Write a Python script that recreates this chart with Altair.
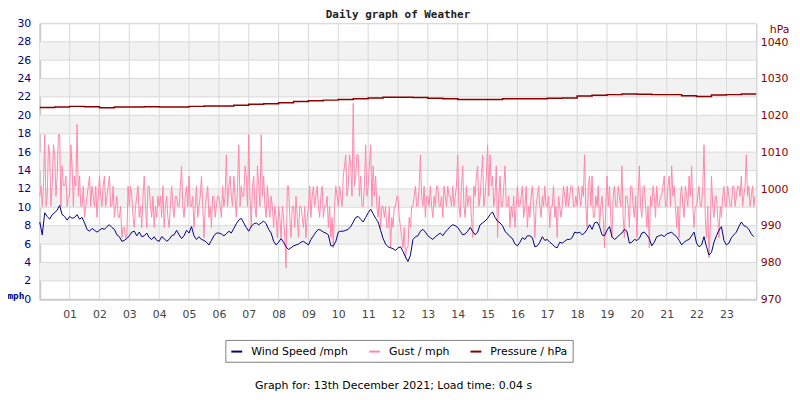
import altair as alt
import pandas as pd

# ---------------- data ----------------
hour_ticks = list(range(1, 24))
mph_ticks = list(range(2, 31, 2))
hpa_ticks = list(range(970, 1041, 10))
band_lo = [2, 6, 10, 14, 18, 22, 26]
band_hi = [4, 8, 12, 16, 20, 24, 28]

series_names = ["Wind Speed /mph", "Gust / mph", "Pressure / hPa"]
series_colors = ["#000080", "#ff88aa", "#8b0000"]

# wind speed, 5-minute samples from 00:00 (mph)
wind = [
    8.4, 7.0, 9.4, 9.0, 8.7, 9.2, 9.4, 9.7, 10.2, 9.2, 9.0, 8.6,
    9.0, 8.8, 8.9, 9.2, 8.7, 8.9, 8.3, 7.6, 7.4, 7.7, 7.5, 7.3,
    7.5, 7.7, 7.6, 7.9, 8.1, 7.8, 7.6, 7.0, 6.8, 6.3, 6.4, 6.6,
    6.9, 7.3, 7.4, 6.9, 7.3, 6.8, 6.9, 7.2, 6.7, 6.5, 6.8, 6.4,
    6.3, 6.8, 6.6, 6.3, 6.5, 6.9, 7.0, 7.5, 7.0, 6.6, 6.9, 7.5,
    7.2, 7.9, 6.9, 6.5, 6.8, 6.5, 6.4, 6.2, 5.9, 6.4, 6.9, 7.2,
    7.2, 7.1, 6.9, 7.1, 7.4, 7.2, 7.7, 8.2, 8.6, 8.8, 8.3, 7.8,
    7.4, 7.9, 8.2, 8.3, 8.1, 8.3, 8.5, 8.2, 7.6, 7.2, 6.3, 5.9,
    6.2, 6.6, 6.2, 5.7, 5.4, 5.6, 5.8, 5.9, 6.0, 6.2, 6.3, 6.1,
    5.9, 6.5, 6.9, 7.3, 7.6, 7.5, 7.3, 7.2, 7.0, 5.8, 5.8, 6.3,
    7.3, 7.4, 7.4, 7.5, 7.6, 7.9, 8.4, 8.9, 9.0, 8.7, 8.4, 8.9,
    9.4, 9.8, 9.3, 8.8, 8.4, 7.5, 6.6, 6.0, 5.7, 5.6, 5.5, 5.3,
    5.6, 5.7, 5.2, 4.6, 4.1, 4.8, 6.5, 6.8, 6.9, 7.4, 7.6, 7.3,
    6.9, 6.7, 6.5, 6.8, 7.0, 7.2, 6.9, 7.3, 7.6, 7.9, 8.1, 8.0,
    7.8, 7.4, 7.0, 7.1, 7.4, 7.8, 7.4, 7.0, 7.3, 8.1, 8.3, 8.5,
    8.8, 9.2, 9.5, 8.9, 8.5, 8.3, 8.0, 7.4, 7.1, 6.8, 6.6, 6.0,
    5.8, 6.2, 6.7, 6.5, 6.9, 6.9, 6.7, 5.7, 5.8, 6.2, 6.8, 6.4,
    6.5, 6.2, 6.0, 5.7, 5.6, 6.2, 6.1, 6.3, 6.5, 6.5, 6.7, 7.3,
    7.2, 7.3, 7.0, 7.2, 7.6, 8.1, 7.6, 8.3, 8.4, 7.9, 7.0, 6.9,
    7.5, 7.9, 6.8, 6.5, 6.7, 7.0, 7.2, 7.6, 7.4, 6.1, 6.2, 6.5,
    6.4, 6.6, 7.2, 7.3, 7.0, 6.6, 5.8, 6.2, 6.8, 6.9, 7.0, 6.8,
    7.1, 7.2, 7.3, 7.0, 6.8, 6.4, 5.9, 6.2, 6.4, 6.5, 6.9, 7.3,
    6.1, 5.7, 5.9, 6.8, 5.7, 4.8, 5.1, 6.2, 6.9, 7.5, 7.9, 6.4,
    5.9, 6.1, 6.7, 7.0, 7.3, 7.9, 8.4, 8.0, 7.9, 7.6, 7.1, 6.8,
]

# gust, 2.5-minute samples from 00:00 (mph), one row per hour
gust = [
    11.2, 12.3, 10.1, 12.3, 17.9, 10.1, 11.2, 16.8, 15.7, 10.1, 12.3, 16.8, 15.7, 11.2, 13.4, 17.9, 17.9, 10.1, 14.5, 12.3, 12.3, 13.4, 10.1, 11.2,
    11.2, 16.8, 14.5, 10.1, 13.4, 12.3, 19.0, 11.2, 13.4, 10.1, 10.1, 12.3, 8.9, 10.1, 11.2, 12.3, 13.4, 10.1, 12.3, 11.2, 10.1, 12.3, 8.9, 11.2,
    13.4, 11.2, 10.1, 12.3, 13.4, 10.1, 11.2, 12.3, 13.4, 10.1, 10.1, 12.3, 8.9, 10.1, 11.2, 8.9, 8.9, 10.1, 6.7, 7.8, 7.8, 6.7, 6.7, 12.3,
    10.1, 12.3, 11.2, 8.9, 7.8, 10.1, 11.2, 12.3, 8.9, 10.1, 7.8, 11.2, 13.4, 10.1, 7.8, 12.3, 12.3, 10.1, 8.9, 11.2, 7.8, 10.1, 8.9, 11.2,
    10.1, 11.2, 8.9, 12.3, 7.8, 10.1, 11.2, 8.9, 7.8, 10.1, 12.3, 10.1, 8.9, 11.2, 11.2, 10.1, 10.1, 12.3, 14.5, 10.1, 8.9, 11.2, 12.3, 10.1,
    13.4, 10.1, 10.1, 11.2, 7.8, 10.1, 12.3, 8.9, 10.1, 11.2, 13.4, 10.1, 6.7, 10.1, 11.2, 12.3, 8.9, 10.1, 7.8, 11.2, 11.2, 8.9, 10.1, 11.2,
    11.2, 10.1, 8.9, 12.3, 10.1, 11.2, 15.7, 10.1, 12.3, 13.4, 11.2, 10.1, 13.4, 11.2, 8.9, 12.3, 16.8, 10.1, 12.3, 11.2, 11.2, 14.5, 13.4, 10.1,
    17.9, 11.2, 7.8, 12.3, 13.4, 10.1, 8.9, 14.5, 12.3, 10.1, 17.9, 11.2, 13.4, 10.1, 8.9, 12.3, 10.1, 8.9, 11.2, 10.1, 7.8, 10.1, 8.9, 6.7,
    10.1, 8.9, 6.7, 10.1, 8.9, 6.7, 3.4, 12.3, 12.3, 8.9, 6.7, 10.1, 10.1, 7.8, 11.2, 8.9, 6.7, 10.1, 10.1, 8.9, 7.8, 10.1, 6.7, 8.9,
    10.1, 12.3, 8.9, 11.2, 12.3, 10.1, 11.2, 12.3, 10.1, 8.9, 11.2, 12.3, 8.9, 10.1, 10.1, 11.2, 7.8, 10.1, 6.7, 8.9, 5.6, 10.1, 12.3, 11.2,
    10.1, 12.3, 11.2, 10.1, 13.4, 14.5, 15.7, 11.2, 12.3, 15.7, 14.5, 11.2, 21.3, 12.3, 13.4, 15.7, 15.7, 11.2, 13.4, 10.1, 10.1, 12.3, 16.8, 11.2,
    12.3, 14.5, 16.8, 10.1, 14.5, 11.2, 13.4, 10.1, 8.9, 11.2, 7.8, 10.1, 10.1, 8.9, 10.1, 7.8, 7.8, 10.1, 5.6, 8.9, 7.8, 10.1, 10.1, 11.2,
    11.2, 8.9, 7.8, 6.7, 5.6, 7.8, 4.5, 5.6, 5.6, 8.9, 7.8, 10.1, 10.1, 11.2, 12.3, 10.1, 10.1, 12.3, 15.7, 11.2, 10.1, 12.3, 8.9, 11.2,
    11.2, 10.1, 12.3, 10.1, 8.9, 11.2, 10.1, 12.3, 12.3, 10.1, 10.1, 11.2, 8.9, 12.3, 11.2, 10.1, 12.3, 11.2, 11.2, 10.1, 12.3, 10.1, 11.2, 12.3,
    15.7, 10.1, 8.9, 12.3, 14.5, 10.1, 8.9, 12.3, 10.1, 11.2, 11.2, 8.9, 6.7, 12.3, 11.2, 13.4, 14.5, 10.1, 11.2, 13.4, 15.7, 10.1, 11.2, 13.4,
    16.8, 11.2, 15.7, 12.3, 13.4, 10.1, 11.2, 14.5, 6.7, 11.2, 13.4, 10.1, 10.1, 12.3, 14.5, 10.1, 10.1, 11.2, 7.8, 10.1, 8.9, 11.2, 7.8, 10.1,
    12.3, 10.1, 10.1, 11.2, 12.3, 8.9, 10.1, 12.3, 7.8, 10.1, 8.9, 11.2, 12.3, 10.1, 6.7, 10.1, 11.2, 12.3, 10.1, 8.9, 11.2, 10.1, 12.3, 10.1,
    10.1, 11.2, 7.8, 10.1, 10.1, 12.3, 8.9, 10.1, 6.7, 11.2, 10.1, 8.9, 10.1, 12.3, 11.2, 10.1, 12.3, 10.1, 11.2, 12.3, 12.3, 10.1, 10.1, 11.2,
    10.1, 12.3, 11.2, 10.1, 12.3, 11.2, 15.7, 10.1, 7.8, 12.3, 13.4, 10.1, 13.4, 8.9, 8.9, 11.2, 10.1, 12.3, 7.8, 10.1, 11.2, 8.9, 5.6, 10.1,
    13.4, 10.1, 12.3, 8.9, 6.7, 11.2, 12.3, 10.1, 10.1, 12.3, 11.2, 10.1, 14.5, 8.9, 6.7, 11.2, 11.2, 10.1, 7.8, 12.3, 12.3, 10.1, 8.9, 11.2,
    6.7, 11.2, 14.5, 10.1, 8.9, 12.3, 12.3, 10.1, 7.8, 10.1, 5.6, 11.2, 10.1, 12.3, 11.2, 8.9, 12.3, 10.1, 10.1, 11.2, 11.2, 12.3, 13.4, 10.1,
    10.1, 12.3, 13.4, 10.1, 14.5, 11.2, 12.3, 10.1, 7.8, 10.1, 6.7, 11.2, 12.3, 10.1, 8.9, 12.3, 11.2, 10.1, 13.4, 11.2, 14.5, 10.1, 7.8, 10.1,
    10.1, 11.2, 12.3, 10.1, 10.1, 12.3, 16.8, 8.9, 6.7, 10.1, 4.5, 7.8, 13.4, 10.1, 8.9, 11.2, 11.2, 8.9, 6.7, 10.1, 8.9, 11.2, 12.3, 10.1,
    10.1, 12.3, 11.2, 10.1, 10.1, 12.3, 12.3, 10.1, 11.2, 12.3, 12.3, 11.2, 13.4, 10.1, 11.2, 12.3, 15.7, 11.2, 12.3, 10.1, 11.2, 12.3, 10.1, 11.2,
]

# pressure, half-hourly from 00:00 (hPa)
pressure = [
    1022.2, 1022.3, 1022.5, 1022.4, 1022.1, 1022.3, 1022.3, 1022.4,
    1022.3, 1022.3, 1022.5, 1022.6, 1022.6, 1022.8, 1023.1, 1023.2,
    1023.5, 1023.8, 1024.0, 1024.2, 1024.4, 1024.6, 1024.8, 1025.0,
    1025.0, 1024.9, 1024.7, 1024.6, 1024.4, 1024.4, 1024.4, 1024.6,
    1024.6, 1024.6, 1024.7, 1024.8, 1025.3, 1025.5, 1025.7, 1025.9,
    1025.8, 1025.7, 1025.7, 1025.4, 1025.2, 1025.6, 1025.7, 1025.9,
    1025.9,
]

w_times = [i * 5 / 60 for i in range(len(wind))]
g_times = [i * 2.5 / 60 for i in range(len(gust))]
p_times = [i * 0.5 for i in range(len(pressure))]

df_wind = pd.DataFrame({"t": w_times, "v": wind, "s": series_names[0]})
df_gust = pd.DataFrame({"t": g_times, "v": gust, "s": series_names[1]})
df_pres = pd.DataFrame({"t": p_times, "p": pressure, "s": series_names[2]})
df_bands = pd.DataFrame({"lo": band_lo, "hi": band_hi})
df_hgrid = pd.DataFrame({"v": mph_ticks})
df_vgrid = pd.DataFrame({"h": hour_ticks})

# ---------------- scales / axes ----------------
FONT = "DejaVu Sans"
x_scale = alt.Scale(domain=[0, 24], nice=False, zero=False)
y_scale = alt.Scale(domain=[0, 30], nice=False, zero=False)
p_scale = alt.Scale(domain=[970, 1045.1], nice=False, zero=False)

x_axis = alt.Axis(
    values=hour_ticks,
    labelExpr="datum.value < 10 ? '0' + datum.value : '' + datum.value",
    grid=False, ticks=False, domain=True, domainColor="#cccccc", domainWidth=2,
    labelColor="#444444", labelFont=FONT, labelFontSize=11, labelPadding=9,
    title="Graph for: 13th December 2021; Load time: 0.04 s",
    titleFont=FONT, titleFontSize=11, titleFontWeight="normal", titleColor="#000000",
    titleX=356, titleY=87, titleAlign="center", titleBaseline="middle",
)
y_axis = alt.Axis(
    values=list(range(0, 31, 2)),
    grid=False, ticks=False, domain=True, domainColor="#cccccc", domainWidth=2,
    labelColor="#000080", labelFont=FONT, labelFontSize=11, labelPadding=9,
    title="mph", titleAngle=0, titleX=-24.5, titleY=274, titleAlign="center",
    titleBaseline="middle", titleFont="'Liberation Sans Narrow', 'DejaVu Sans Mono'",
    titleFontSize=9.5, titleFontWeight="bold", titleColor="#000080",
)
p_axis = alt.Axis(
    orient="right", values=hpa_ticks, format="d",
    grid=False, ticks=False, domain=True, domainColor="#cccccc", domainWidth=1,
    labelColor="#8b0000", labelFont=FONT, labelFontSize=11, labelPadding=4,
    title="hPa", titleAngle=0, titleX=23, titleY=6, titleAlign="center",
    titleBaseline="middle", titleFont=FONT, titleFontSize=11,
    titleFontWeight="normal", titleColor="#8b0000",
)

legend = alt.Legend(
    orient="none", legendX=187, legendY=319, direction="horizontal", title=None,
    strokeColor="#808080", fillColor="#ffffff", padding=5,
    symbolType="stroke", symbolStrokeWidth=2, symbolSize=121,
    labelFont=FONT, labelFontSize=11, labelColor="#000000",
    labelOffset=8, columnPadding=17,
)
color = alt.Color("s:N", scale=alt.Scale(domain=series_names, range=series_colors), legend=legend)

X = lambda f: alt.X(f, scale=x_scale, axis=x_axis)
Y = lambda f: alt.Y(f, scale=y_scale, axis=y_axis)

bands = alt.Chart(df_bands).mark_rect(color="#f2f2f2").encode(
    x=alt.datum(0, scale=x_scale, axis=x_axis), x2=alt.datum(24),
    y=Y("lo:Q"), y2="hi:Q",
)
hgrid = alt.Chart(df_hgrid).mark_rule(color="#d9d9d9", strokeWidth=1).encode(
    y=Y("v:Q")
)
vgrid = alt.Chart(df_vgrid).mark_rule(color="#d9d9d9", strokeWidth=1).encode(
    x=X("h:Q")
)
gust_line = alt.Chart(df_gust).mark_line(strokeWidth=1).encode(
    x=X("t:Q"), y=Y("v:Q"), color=color
)
wind_line = alt.Chart(df_wind).mark_line(strokeWidth=1).encode(
    x=X("t:Q"), y=Y("v:Q"), color=color
)
mph_layer = alt.layer(bands, hgrid, vgrid, gust_line, wind_line)

pres_line = alt.Chart(df_pres).mark_line(strokeWidth=1.5, interpolate="step-after").encode(
    x=X("t:Q"), y=alt.Y("p:Q", scale=p_scale, axis=p_axis), color=color
)

chart = alt.layer(mph_layer, pres_line).resolve_scale(y="independent").properties(
    width=722, height=278,
    autosize=alt.AutoSizeParams(type="none"),
    padding={"left": 32, "top": 14, "right": 36, "bottom": 92},
    title=alt.TitleParams(
        text="Daily graph of Weather", font="DejaVu Sans Mono", fontSize=11,
        fontWeight="bold", color="#222222", anchor="middle", offset=4, dy=7,
    ),
).configure_view(stroke="#d0d0d0").configure(background="white")

chart.save("out.html", embed_options={"renderer": "svg", "actions": False})
